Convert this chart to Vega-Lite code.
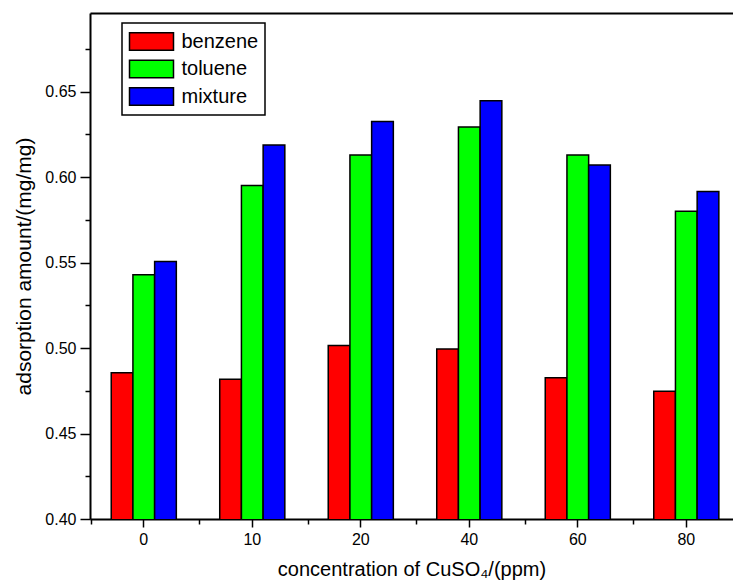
{
  "$schema": "https://vega.github.io/schema/vega-lite/v6.json",
  "autosize": "none",
  "width": 643,
  "height": 506,
  "padding": {"left": 90, "top": 13, "right": 0, "bottom": 66},
  "background": "white",
  "config": {
    "view": {"stroke": null},
    "font": "Liberation Sans",
    "legend": {"strokeWidth": 1.5},
    "axis": {"domainColor": "black", "tickColor": "black", "labelColor": "black", "titleColor": "black", "labelFont": "Liberation Sans", "titleFont": "Liberation Sans", "titleFontWeight": "normal", "grid": false}
  },
  "data": {"values": [
    {"conc": "0", "series": "benzene", "value": 0.4855},
    {"conc": "0", "series": "toluene", "value": 0.5429},
    {"conc": "0", "series": "mixture", "value": 0.5506},
    {"conc": "10", "series": "benzene", "value": 0.4818},
    {"conc": "10", "series": "toluene", "value": 0.5951},
    {"conc": "10", "series": "mixture", "value": 0.6188},
    {"conc": "20", "series": "benzene", "value": 0.5015},
    {"conc": "20", "series": "toluene", "value": 0.6129},
    {"conc": "20", "series": "mixture", "value": 0.6326},
    {"conc": "40", "series": "benzene", "value": 0.4994},
    {"conc": "40", "series": "toluene", "value": 0.6293},
    {"conc": "40", "series": "mixture", "value": 0.6446},
    {"conc": "60", "series": "benzene", "value": 0.4827},
    {"conc": "60", "series": "toluene", "value": 0.6129},
    {"conc": "60", "series": "mixture", "value": 0.6071},
    {"conc": "80", "series": "benzene", "value": 0.4748},
    {"conc": "80", "series": "toluene", "value": 0.5801},
    {"conc": "80", "series": "mixture", "value": 0.5916}
  ]},
  "resolve": {"axis": {"x": "independent", "y": "independent"}, "scale": {"x": "independent"}},
  "layer": [
    {
      "mark": {"type": "bar", "stroke": "black", "strokeWidth": 1.5, "clip": true},
      "encoding": {
        "x": {"field": "conc", "type": "nominal", "sort": ["0", "10", "20", "40", "60", "80"],
          "scale": {"paddingInner": 0.4, "paddingOuter": 0.163, "align": 0.6},
          "axis": {"orient": "bottom", "title": "concentration of CuSO₄/(ppm)", "titleFontSize": 20, "titlePadding": 12, "labelAngle": 0, "labelFontSize": 16, "labelPadding": 4, "tickSize": 8, "tickWidth": 1.5, "domainWidth": 2}},
        "xOffset": {"field": "series", "type": "nominal", "sort": ["benzene", "toluene", "mixture"], "scale": {"paddingInner": 0, "paddingOuter": 0}},
        "y": {"field": "value", "type": "quantitative",
          "scale": {"domain": [0.4, 0.696], "nice": false, "zero": false},
          "axis": {"orient": "left", "title": "adsorption amount/(mg/mg)", "titleFontSize": 21, "titlePadding": 10,
            "values": [0.4, 0.425, 0.45, 0.475, 0.5, 0.525, 0.55, 0.575, 0.6, 0.625, 0.65, 0.675],
            "labelExpr": "round(datum.value*1000) % 50 == 0 ? format(datum.value, '.2f') : ''",
            "labelFontSize": 16, "labelPadding": 4,
            "tickSize": {"condition": {"test": "round(datum.value*1000) % 50 == 0", "value": 10}, "value": 5},
            "tickWidth": 1.5, "domainWidth": 2}},
        "color": {"field": "series", "type": "nominal", "sort": ["benzene", "toluene", "mixture"],
          "scale": {"domain": ["benzene", "toluene", "mixture"], "range": ["#FF0000", "#00FF00", "#0000FF"]},
          "legend": {"title": null, "orient": "none", "legendX": 32, "legendY": 10, "direction": "vertical",
            "symbolType": "M-1,-0.8H3V0.8H-1Z", "symbolSize": 484, "symbolStrokeColor": "black", "symbolStrokeWidth": 1.5, "symbolOpacity": 1,
            "labelFontSize": 20, "labelFont": "Liberation Sans", "labelColor": "black", "labelOffset": 29, "rowPadding": 3.5,
            "padding": 6.5, "strokeColor": "black", "fillColor": "white"}}
      }
    },
    {
      "mark": {"type": "point", "opacity": 0},
      "encoding": {
        "x": {"field": "conc", "type": "nominal", "sort": ["0", "10", "20", "40", "60", "80"],
          "scale": {"paddingInner": 0, "paddingOuter": 0, "range": [0.75, 651.75]},
          "axis": {"orient": "bottom", "title": null, "labels": false, "domain": false, "tickBand": "extent", "tickSize": 5, "tickWidth": 1.5, "tickColor": "black"}},
        "y": {"field": "value", "type": "quantitative", "axis": null}
      }
    },
    {
      "mark": {"type": "point", "opacity": 0},
      "encoding": {
        "x": {"field": "conc", "type": "nominal", "sort": ["0", "10", "20", "40", "60", "80"],
          "axis": {"orient": "top", "title": null, "labels": false, "ticks": false, "domain": true, "domainWidth": 2}},
        "y": {"field": "value", "type": "quantitative", "axis": null}
      }
    }
  ]
}
